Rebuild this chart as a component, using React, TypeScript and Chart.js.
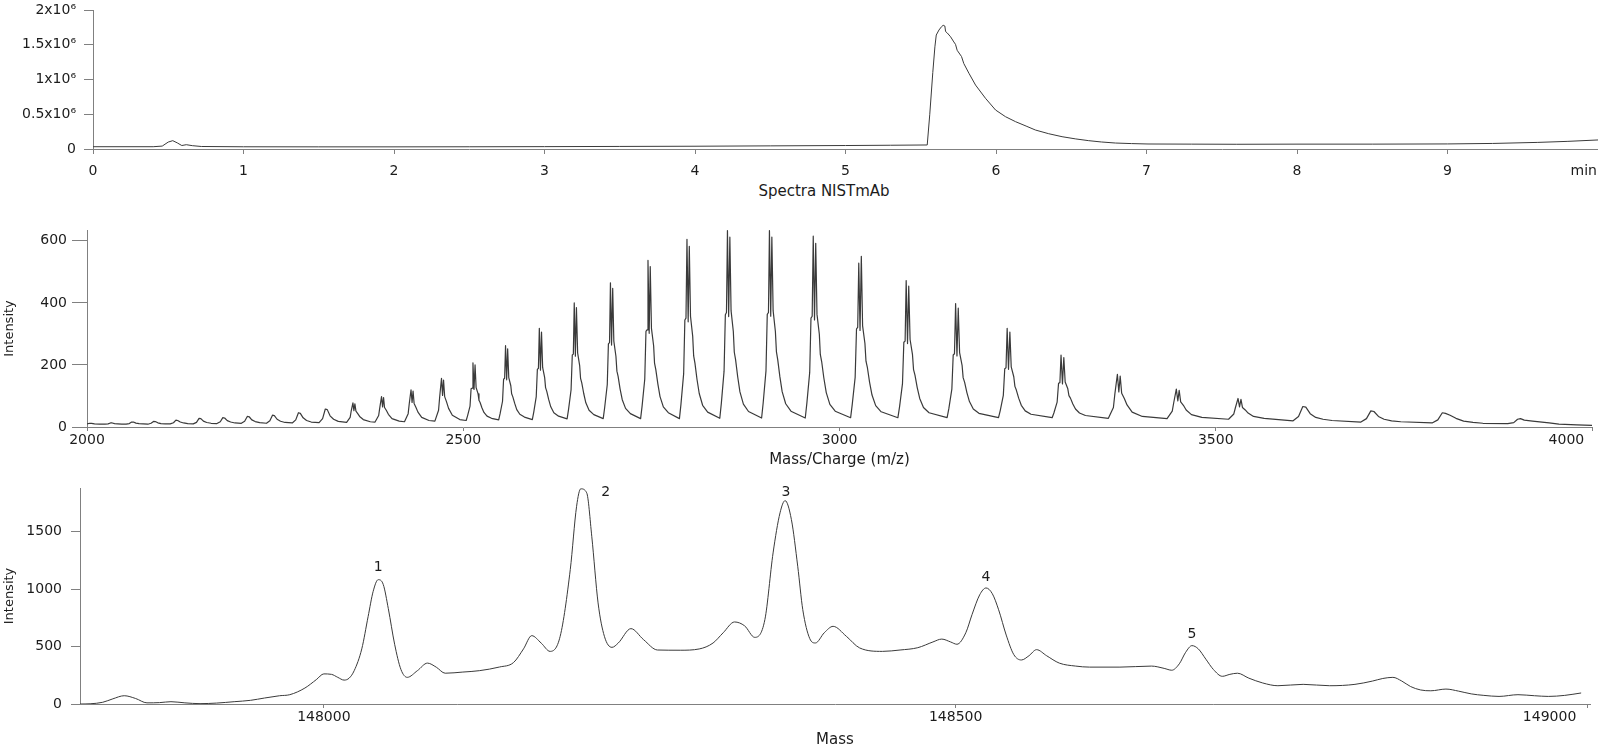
import React, { useEffect, useRef } from 'react';
import { Chart, registerables } from 'chart.js';

Chart.register(...registerables);

const FONT_FAMILY = '"DejaVu Sans", Verdana, sans-serif';
const AXIS_COLOR = '#808080';
const LINE_COLOR = '#3a3a3a';
const TEXT_COLOR = '#1c1c1c';
const HIDDEN = 'rgba(0,0,0,0)';

// ---------------- Panel 1: chromatogram ----------------
const chromXTicks = [0, 1, 2, 3, 4, 5, 6, 7, 8, 9, 9.905];
const chromXLabels = ['0', '1', '2', '3', '4', '5', '6', '7', '8', '9', 'min'];
const chromXMarks = [true, true, true, true, true, true, true, true, true, true, false];
const chromYTicks = [0, 500000, 1000000, 1500000, 2000000];
const chromYLabels = ['0', '0.5x10⁶', '1x10⁶', '1.5x10⁶', '2x10⁶'];
const chromTitle = 'Spectra NISTmAb';
const chromatogram: number[][] = [
  [0, 33000], [0.4, 33000], [0.46, 42000], [0.5, 100000], [0.53, 120000], [0.56, 88000],
  [0.59, 50000], [0.62, 62000], [0.66, 48000], [0.72, 36000], [1.0, 32000], [1.5, 31000],
  [2.0, 31000], [2.5, 32000], [3.0, 34000], [3.5, 37000], [4.0, 40000], [4.5, 45000],
  [5.0, 50000], [5.3, 54000], [5.543, 58000], [5.56, 500000], [5.58, 1100000], [5.594, 1470000],
  [5.603, 1640000], [5.621, 1712000], [5.638, 1760000], [5.649, 1780000], [5.66, 1770000],
  [5.665, 1690000], [5.676, 1670000], [5.698, 1615000], [5.72, 1540000], [5.731, 1506000],
  [5.742, 1420000], [5.771, 1330000], [5.786, 1230000], [5.82, 1090000], [5.864, 920000],
  [5.93, 730000], [5.997, 561000], [6.063, 465000], [6.13, 393000], [6.2, 330000],
  [6.262, 273000], [6.35, 220000], [6.439, 177000], [6.53, 145000], [6.616, 120000],
  [6.7, 101000], [6.793, 86000], [6.9, 78000], [7.01, 72000], [7.3, 70000], [7.6, 68000],
  [8.0, 70000], [8.5, 70000], [9.0, 73000], [9.3, 80000], [9.6, 95000], [9.8, 110000], [10.0, 130000],
];

// ---------------- Panel 2: m/z spectrum ----------------
const mzXTicks = [2000, 2500, 3000, 3500, 3966, 4000];
const mzXLabels = ['2000', '2500', '3000', '3500', '4000', ''];
const mzXMarks = [true, true, true, true, false, true];
const mzYTicks = [0, 200, 400, 600];
const mzYLabels = ['0', '200', '400', '600'];
const mzXTitle = 'Mass/Charge (m/z)';
const mzYTitle = 'Intensity';
const mzSpectrum: number[][] = [
  [2000, 10], [2003.7, 12], [2006, 11.5], [2010, 10], [2017, 9],
  [2023.9, 9], [2028, 10], [2031.2, 13], [2033.5, 13], [2036.7, 11], [2040.9, 10], [2046.3, 9],
  [2052, 9], [2056.2, 11], [2059.4, 16], [2061.7, 16], [2065, 12.5], [2069.2, 11], [2074.7, 10],
  [2080.9, 9], [2085.1, 12], [2088.4, 18], [2090.7, 17.6], [2094.1, 13.5], [2098.3, 11], [2103.9, 10],
  [2110.6, 10], [2114.9, 13.6], [2118.2, 22], [2120.5, 21], [2124, 16], [2128.3, 13], [2133.9, 11],
  [2141.2, 10], [2145.5, 15], [2148.9, 28], [2151.3, 27], [2154.7, 19], [2159.1, 14.5], [2164.9, 12],
  [2172.7, 11], [2177.1, 17], [2180.5, 30], [2182.9, 29], [2186.4, 20.5], [2190.9, 16], [2196.7, 13],
  [2205.1, 12], [2209.5, 18.6], [2213, 34], [2215.5, 33], [2219, 23], [2223.5, 17.5], [2229.5, 14],
  [2238.5, 12], [2243, 20], [2246.5, 38], [2249, 36.7], [2252.6, 25], [2257.2, 18.5], [2263.2, 14.6],
  [2272.8, 13], [2277.4, 23], [2281, 46], [2283.5, 44], [2287.2, 29.5], [2291.8, 21], [2298, 16],
  [2308.4, 14], [2313.1, 27], [2316.7, 58], [2319.3, 56], [2323, 36], [2327.7, 25], [2333.9, 18],
  [2345, 15], [2349.7, 31], [2351, 50], [2353.4, 78], [2354.7, 53], [2356, 75], [2357.4, 51], [2359.8, 43], [2362.3, 34], [2367.1, 24], [2376.5, 17],
  [2382.8, 16], [2387.6, 37], [2389, 61], [2391.4, 98], [2392.8, 65], [2394.1, 95], [2395.4, 63], [2397.9, 53], [2400.5, 41], [2405.3, 27], [2414.9, 19],
  [2421.9, 17], [2426.8, 43], [2428.2, 74], [2430.6, 120], [2432, 79], [2433.3, 116], [2434.7, 76], [2437.2, 63], [2439.8, 48], [2444.8, 31], [2454.5, 21],
  [2462.3, 19], [2467.2, 54], [2468.6, 95], [2471.1, 157], [2472.5, 102], [2473.8, 151], [2475.3, 98], [2477.8, 81], [2480.5, 60], [2485.5, 38], [2495.4, 24],
  [2503.9, 21], [2505.7, 36], [2509, 67], [2510.4, 123], [2511.7, 125], [2512.9, 207], [2514.3, 121], [2515.7, 200], [2517.1, 127], [2519.7, 107], [2520.9, 86], [2522.4, 79], [2524.8, 62], [2527.5, 47], [2531.6, 35], [2537.6, 28],
  [2547.1, 23], [2548.9, 42], [2552.2, 83], [2553.6, 154], [2555, 157], [2556.2, 262], [2557.7, 152], [2559, 252], [2560.5, 159], [2563.2, 133], [2564.3, 107], [2565.9, 97], [2568.4, 76], [2571.1, 56], [2575.2, 41], [2581.3, 32],
  [2591.8, 24], [2593.7, 48], [2597, 98], [2598.5, 186], [2599.9, 189], [2601.1, 318], [2602.6, 183], [2604, 306], [2605.5, 192], [2608.2, 159], [2609.4, 127], [2611, 115], [2613.5, 89], [2616.3, 65], [2620.4, 46], [2626.7, 35],
  [2638, 26], [2639.9, 56], [2643.3, 120], [2644.9, 232], [2646.3, 235], [2647.5, 400], [2649, 228], [2650.4, 385], [2652, 239], [2654.7, 198], [2655.9, 157], [2657.5, 142], [2660.1, 108], [2662.9, 78], [2667.2, 54], [2673.5, 40],
  [2686, 27], [2687.9, 62], [2691.4, 137], [2692.9, 268], [2694.4, 272], [2695.6, 465], [2697.1, 264], [2698.6, 447], [2700.1, 277], [2702.9, 228], [2704.2, 180], [2705.8, 163], [2708.4, 123], [2711.3, 88], [2715.7, 60], [2722.1, 43],
  [2735.7, 27], [2737.7, 68], [2741.2, 154], [2742.8, 308], [2744.2, 313], [2745.5, 537], [2747.1, 302], [2748.5, 517], [2750.1, 318], [2753, 262], [2754.2, 206], [2755.9, 185], [2758.6, 139], [2761.5, 98], [2765.9, 65], [2772.5, 46],
  [2787.3, 27], [2789.3, 73], [2792.9, 172], [2794.5, 345], [2796, 351], [2797.3, 605], [2798.9, 339], [2800.4, 582], [2802, 357], [2804.9, 293], [2806.2, 229], [2807.9, 206], [2810.6, 154], [2813.6, 108], [2818.1, 70], [2824.8, 48],
  [2840.9, 28], [2843, 77], [2846.6, 180], [2848.3, 362], [2849.8, 369], [2851.1, 633], [2852.7, 356], [2854.3, 612], [2855.9, 375], [2858.9, 308], [2860.2, 241], [2861.9, 217], [2864.7, 162], [2867.7, 113], [2872.3, 74], [2879.1, 50],
  [2896.5, 29], [2898.6, 78], [2902.3, 181], [2904, 363], [2905.6, 369], [2906.9, 633], [2908.6, 357], [2910.1, 612], [2911.8, 375], [2914.8, 308], [2916.2, 242], [2917.9, 217], [2920.7, 163], [2923.8, 114], [2928.5, 75], [2935.5, 51],
  [2954.5, 29], [2956.6, 76], [2960.4, 176], [2962.1, 351], [2963.7, 357], [2965.1, 615], [2966.8, 345], [2968.4, 592], [2970.1, 363], [2973.2, 299], [2974.5, 234], [2976.3, 211], [2979.2, 158], [2982.4, 111], [2987.2, 73], [2994.3, 51],
  [3014.8, 30], [3016.9, 72], [3020.8, 160], [3022.6, 316], [3024.2, 321], [3025.6, 528], [3027.3, 311], [3029, 550], [3030.7, 326], [3033.8, 269], [3035.2, 212], [3037.1, 191], [3040, 144], [3043.2, 103], [3048.1, 69], [3055.4, 49],
  [3077.6, 30], [3079.8, 65], [3083.7, 140], [3085.5, 273], [3087.2, 277], [3088.6, 472], [3090.4, 269], [3092, 454], [3093.8, 282], [3097, 233], [3098.4, 185], [3100.3, 167], [3103.3, 127], [3106.6, 92], [3111.6, 63], [3119, 46],
  [3143, 30], [3145.3, 59], [3149.3, 122], [3151.1, 232], [3152.8, 236], [3154.3, 398], [3156.1, 229], [3157.8, 383], [3159.6, 240], [3162.9, 199], [3164.3, 159], [3166.3, 144], [3169.3, 111], [3172.7, 82], [3177.8, 58], [3185.3, 44],
  [3211.3, 30], [3213.6, 53], [3217.7, 102], [3219.6, 188], [3221.3, 191], [3222.8, 318], [3224.6, 186], [3226.4, 306], [3228.2, 194], [3231.6, 162], [3233.1, 131], [3235, 119], [3238.1, 93], [3241.6, 70], [3246.8, 52], [3254.5, 41],
  [3282.6, 30], [3285, 46], [3289.2, 80], [3291.1, 141], [3292.9, 143], [3294.4, 232], [3296.3, 139], [3298.1, 224], [3299.9, 145], [3303.4, 123], [3304.9, 101], [3306.9, 93], [3310.1, 74], [3313.6, 58], [3318.9, 45], [3326.8, 37],
  [3357.3, 28], [3364, 63], [3365.9, 106], [3369.3, 170], [3371.2, 113], [3373, 164], [3375, 109], [3378.5, 92], [3382.1, 71], [3388.9, 48], [3402.4, 34],
  [3435.3, 27], [3442.2, 51], [3444.2, 79], [3447.6, 122], [3449.6, 84], [3451.4, 118], [3453.4, 81], [3457, 70], [3460.7, 55], [3467.7, 40], [3481.5, 31],
  [3517, 25], [3524, 42], [3526.1, 62], [3529.6, 92], [3531.6, 65], [3533.5, 89], [3535.5, 63], [3539.2, 55], [3543, 45], [3550.2, 34], [3564.3, 28],
  [3602.8, 20], [3610, 34], [3615.7, 66], [3619.7, 64], [3625.5, 43], [3632.9, 31], [3642.6, 25], [3654.5, 21],
  [3692.9, 16], [3700.3, 27], [3706.1, 52], [3710.2, 50], [3716.2, 34], [3723.7, 25], [3733.7, 20], [3745.9, 17],
  [3787.5, 13], [3795.1, 23], [3801.1, 46], [3805.3, 44], [3811.4, 38], [3819.2, 28], [3829.4, 19], [3841.9, 15], [3855, 12],
  [3888, 11], [3896, 14], [3901.1, 25], [3905, 27], [3910, 22], [3921, 19], [3943, 13], [3956, 9], [3980, 7], [4003, 5],
];

// ---------------- Panel 3: deconvoluted mass spectrum ----------------
const massXTicks = [148000, 148500, 148970, 149000];
const massXLabels = ['148000', '148500', '149000', ''];
const massXMarks = [true, true, false, true];
const massYTicks = [0, 500, 1000, 1500];
const massYLabels = ['0', '500', '1000', '1500'];
const massXTitle = 'Mass';
const massYTitle = 'Intensity';
const peakNames = ['1', '2', '3', '4', '5'];
const peakLabelMass = [148043, 148223, 148365.6, 148524, 148687];
const peakLabelIntensity = [1190, 1838, 1838, 1102, 605];
const massSpectrum: number[][] = [
  [147807, 0], [147815, 2], [147825, 15], [147833, 45], [147842, 72], [147851, 48], [147860, 10],
  [147870, 12], [147879, 20], [147890, 10], [147902, 3], [147915, 8], [147929, 20], [147942, 32],
  [147953, 52], [147965, 72], [147973, 81], [147985, 139], [147994, 212], [148000, 262], [148006, 258],
  [148011, 232], [148016, 208], [148020, 225], [148024, 290], [148030, 480], [148035, 760], [148039, 980],
  [148043, 1082], [148047, 1040], [148051, 830], [148056, 520], [148061, 300], [148066, 232], [148074, 290],
  [148082, 356], [148089, 320], [148096, 268], [148110, 278], [148123, 290], [148139, 322], [148150, 360],
  [148158, 480], [148164.5, 595], [148172, 530], [148179, 458], [148187, 589], [148195, 1170], [148200, 1721],
  [148203.3, 1873], [148208, 1838], [148212, 1460], [148217, 880], [148222, 589], [148228, 493], [148233, 531],
  [148243, 656], [148253, 560], [148264, 470], [148282, 468], [148297, 479], [148308, 531], [148316, 620],
  [148325, 714], [148333, 680], [148341, 580], [148349, 734], [148355.5, 1315], [148361, 1664], [148365, 1770],
  [148370, 1605], [148375, 1199], [148379, 821], [148384.5, 570], [148389, 531], [148396, 620], [148403, 676],
  [148413.5, 589], [148424, 488], [148442, 458], [148456, 470], [148470, 490], [148482, 540], [148489, 565],
  [148496, 540], [148501, 520], [148508, 620], [148513, 780], [148519, 950], [148524, 1010], [148529, 960],
  [148534, 820], [148540, 600], [148546, 430], [148552, 383], [148558, 420], [148564, 473], [148572, 420],
  [148582, 356], [148595, 330], [148606, 321], [148630, 321], [148655, 330], [148665, 310], [148671, 294],
  [148677, 350], [148682, 450], [148687, 508], [148692, 480], [148698, 390], [148704, 300], [148711, 241],
  [148717, 258], [148723, 268], [148732, 225], [148743, 183], [148755, 159], [148775, 171], [148796, 159],
  [148816, 171], [148830, 200], [148838, 222], [148846, 232], [148853, 200], [148860, 152], [148868, 122],
  [148876, 115], [148888, 130], [148898, 112], [148908, 88], [148918, 75], [148930, 66], [148945, 81],
  [148958, 72], [148969, 66], [148982, 75], [148995, 96],
];

// ---------------- helpers ----------------
type AxisSpec = {
  horizontal: boolean;
  min: number;
  max: number;
  ticks: number[];
  labels: string[];
  marks?: boolean[];
  tickLength: number;
  padding: number;
  size: number;
  fontSize: number;
  title?: string;
  titleSize?: number;
  titlePadding?: any;
};

function axis(spec: AxisSpec) {
  const { horizontal, min, max, ticks, labels, marks, tickLength, padding, size, fontSize, title, titleSize, titlePadding } = spec;
  return {
    type: 'linear',
    position: horizontal ? 'bottom' : 'left',
    min,
    max,
    border: { display: true, color: AXIS_COLOR, width: 1 },
    grid: {
      display: true,
      drawOnChartArea: false,
      drawTicks: true,
      tickLength,
      tickWidth: 1,
      tickColor: (ctx: any) => (marks && marks[ctx.index] === false ? HIDDEN : AXIS_COLOR),
    },
    ticks: {
      autoSkip: false,
      maxRotation: 0,
      minRotation: 0,
      padding,
      color: TEXT_COLOR,
      font: { family: FONT_FAMILY, size: fontSize },
      callback: (_v: any, i: number) => labels[i],
    },
    title: title
      ? {
          display: true,
          text: title,
          color: TEXT_COLOR,
          font: { family: FONT_FAMILY, size: titleSize },
          padding: titlePadding,
        }
      : { display: false },
    afterBuildTicks: (scale: any) => {
      scale.ticks = ticks.map((v) => ({ value: v }));
    },
    afterFit: (scale: any) => {
      if (horizontal) {
        scale.height = size;
        scale.paddingLeft = 0;
        scale.paddingRight = 0;
      } else {
        scale.width = size;
        scale.paddingTop = 0;
        scale.paddingBottom = 0;
      }
    },
  };
}

function baseOptions(padding: any, x: any, y: any) {
  return {
    responsive: false,
    animation: false,
    events: [],
    layout: { padding },
    plugins: { legend: { display: false }, tooltip: { enabled: false }, title: { display: false } },
    scales: { x, y },
  };
}

function lineDataset(data: number[][], smooth: boolean, width: number) {
  return {
    data,
    borderColor: LINE_COLOR,
    borderWidth: width,
    borderJoinStyle: 'round',
    pointRadius: 0,
    fill: false,
    tension: 0,
    cubicInterpolationMode: smooth ? 'monotone' : 'default',
  };
}

const peakLabelPlugin = {
  id: 'peakLabels',
  afterDatasetsDraw(chart: any) {
    const { ctx, scales } = chart;
    ctx.save();
    ctx.font = `14px ${FONT_FAMILY}`;
    ctx.fillStyle = TEXT_COLOR;
    ctx.textAlign = 'center';
    ctx.textBaseline = 'middle';
    peakNames.forEach((name, i) => {
      ctx.fillText(name, scales.x.getPixelForValue(peakLabelMass[i]), scales.y.getPixelForValue(peakLabelIntensity[i]));
    });
    ctx.restore();
  },
};

function chromConfig(): any {
  return {
    type: 'line',
    data: { datasets: [lineDataset(chromatogram, false, 1)] },
    options: baseOptions(
      { top: 10, right: 0, bottom: 0, left: 0 },
      axis({ horizontal: true, min: 0, max: 10, ticks: chromXTicks, labels: chromXLabels, marks: chromXMarks, tickLength: 5, padding: 9, size: 31, fontSize: 14 }),
      axis({ horizontal: false, min: 0, max: 2000000, ticks: chromYTicks, labels: chromYLabels, tickLength: 9, padding: 8, size: 93, fontSize: 14 })
    ),
  };
}

function mzConfig(): any {
  return {
    type: 'line',
    data: { datasets: [lineDataset(mzSpectrum, false, 1.2)] },
    options: baseOptions(
      { top: 30, right: 6, bottom: 0, left: 0 },
      axis({ horizontal: true, min: 2000, max: 4000, ticks: mzXTicks, labels: mzXLabels, marks: mzXMarks, tickLength: 4, padding: 1, size: 42, fontSize: 14, title: mzXTitle, titleSize: 15, titlePadding: { top: 0, bottom: 0 } }),
      axis({ horizontal: false, min: 0, max: 635, ticks: mzYTicks, labels: mzYLabels, tickLength: 15, padding: 5, size: 87, fontSize: 14, title: mzYTitle, titleSize: 13, titlePadding: { top: 2, bottom: 0 } })
    ),
  };
}

function massConfig(): any {
  return {
    type: 'line',
    data: { datasets: [lineDataset(massSpectrum, true, 1)] },
    options: baseOptions(
      { top: 18, right: 8, bottom: 0, left: 0 },
      axis({ horizontal: true, min: 147807, max: 149002, ticks: massXTicks, labels: massXLabels, marks: massXMarks, tickLength: 4, padding: 1, size: 42, fontSize: 14, title: massXTitle, titleSize: 15, titlePadding: { top: 0, bottom: -3 } }),
      axis({ horizontal: false, min: 0, max: 1880, ticks: massYTicks, labels: massYLabels, tickLength: 9, padding: 9, size: 80, fontSize: 14, title: massYTitle, titleSize: 13, titlePadding: { top: 2, bottom: 0 } })
    ),
    plugins: [peakLabelPlugin],
  };
}

function ChartPanel({ top, height, build }: { top: number; height: number; build: () => any }) {
  const ref = useRef<HTMLCanvasElement>(null);
  useEffect(() => {
    const chart = new Chart(ref.current as HTMLCanvasElement, build());
    return () => chart.destroy();
  }, []);
  return (
    <canvas
      ref={ref}
      width={1598}
      height={height}
      style={{ position: 'absolute', left: 0, top, display: 'block', width: 1598, height }}
    />
  );
}

export default function App() {
  return (
    <div style={{ position: 'absolute', left: 0, top: 0, width: 1598, height: 746, background: '#ffffff', overflow: 'hidden' }}>
      <ChartPanel top={0} height={180} build={chromConfig} />
      <div
        style={{
          position: 'absolute',
          left: 824,
          top: 191,
          transform: 'translate(-50%, -50%)',
          font: `15px ${FONT_FAMILY}`,
          lineHeight: 1,
          color: TEXT_COLOR,
          whiteSpace: 'nowrap',
        }}
      >
        {chromTitle}
      </div>
      <ChartPanel top={200} height={269} build={mzConfig} />
      <ChartPanel top={470} height={276} build={massConfig} />
    </div>
  );
}
